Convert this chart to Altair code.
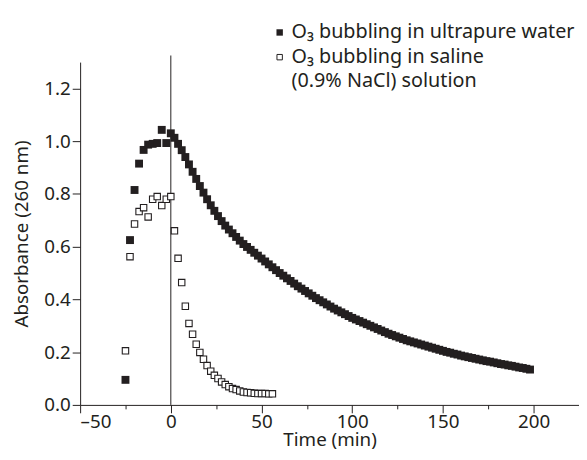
import altair as alt
import pandas as pd

INK = "#231f20"
FONT = "Noto Sans"

# ---- data ----
pre_times = [-25, -22.5, -20, -17.5, -15, -12.5, -10, -7.5, -5, -2.5]

water_pre = [0.095, 0.625, 0.815, 0.915, 0.967, 0.987, 0.990, 0.993, 1.043, 0.993]
water_post_times = list(range(0, 200, 2))
water_post = [
    1.030, 1.013, 0.990, 0.966, 0.940, 0.912, 0.884, 0.857, 0.830, 0.805,
    0.780, 0.757, 0.736, 0.716, 0.697, 0.680, 0.665, 0.651, 0.637, 0.623,
    0.610, 0.599, 0.588, 0.577, 0.566, 0.555, 0.544, 0.533, 0.522, 0.511,
    0.500, 0.490, 0.480, 0.470, 0.460, 0.450, 0.441, 0.432, 0.423, 0.414,
    0.405, 0.397, 0.389, 0.381, 0.373, 0.365, 0.358, 0.351, 0.344, 0.337,
    0.330, 0.324, 0.318, 0.312, 0.306, 0.300, 0.294, 0.288, 0.282, 0.276,
    0.270, 0.265, 0.260, 0.255, 0.250, 0.245, 0.241, 0.237, 0.233, 0.229,
    0.225, 0.221, 0.217, 0.213, 0.209, 0.205, 0.201, 0.198, 0.194, 0.191,
    0.187, 0.184, 0.181, 0.178, 0.175, 0.172, 0.169, 0.166, 0.164, 0.161,
    0.158, 0.155, 0.153, 0.150, 0.148, 0.145, 0.142, 0.140, 0.137, 0.134,
]

saline_pre = [0.205, 0.562, 0.686, 0.733, 0.748, 0.713, 0.780, 0.790, 0.756, 0.780]
saline_post_times = list(range(0, 58, 2))
saline_post = [
    0.790, 0.660, 0.556, 0.464, 0.374, 0.309, 0.268, 0.230, 0.199, 0.173,
    0.149, 0.128, 0.112, 0.100, 0.087, 0.077, 0.069, 0.062, 0.058, 0.053,
    0.049, 0.047, 0.046, 0.044, 0.043, 0.043, 0.043, 0.042, 0.042,
]

x_ticks = [-50, -25, 0, 25, 50, 75, 100, 125, 150, 175, 200, 225]
y_ticks = [0.0, 0.1, 0.2, 0.3, 0.4, 0.5, 0.6, 0.7, 0.8, 0.9, 1.0, 1.1, 1.2, 1.3]

legend_lines = ["O\u2083 bubbling in ultrapure water", "O\u2083 bubbling in saline", "(0.9% NaCl) solution"]

water = pd.DataFrame({"t": pre_times + water_post_times, "a": water_pre + water_post})
saline = pd.DataFrame({"t": pre_times + saline_post_times, "a": saline_pre + saline_post})
zero_line = pd.DataFrame({"t": [0], "a": [0.0], "a2": [1.325]})

x_axis = alt.Axis(
    values=x_ticks,
    labelExpr="datum.value % 50 == 0 ? replace(format(datum.value, 'd'), '\u2212', '\u2013') : ''",
    tickSize={"condition": {"test": "datum.value % 50 == 0", "value": 8}, "value": 4},
    title="Time (min)",
    labelPadding=0,
    titlePadding=-1,
)
y_axis = alt.Axis(
    values=y_ticks,
    labelExpr="round(datum.value*10) % 2 == 0 ? format(datum.value, '.1f') : ''",
    tickSize={"condition": {"test": "round(datum.value*10) % 2 == 0", "value": 8}, "value": 4},
    title="Absorbance (260 nm)",
    labelPadding=2,
    titlePadding=12,
)

X = alt.X("t:Q", scale=alt.Scale(domain=[-50, 225], nice=False, zero=False), axis=x_axis)
Y = alt.Y("a:Q", scale=alt.Scale(domain=[0, 1.3], nice=False, zero=False), axis=y_axis)

rule = alt.Chart(zero_line).mark_rule(color=INK, strokeWidth=1).encode(
    x="t:Q", y="a:Q", y2="a2:Q"
)
filled = alt.Chart(water).mark_square(size=64, color=INK, opacity=1).encode(x=X, y=Y)
opened = alt.Chart(saline).mark_square(
    size=42, filled=True, fill="white", stroke=INK, strokeWidth=1.1, opacity=1
).encode(x="t:Q", y="a:Q")

leg_df = pd.DataFrame({"k": [0]})
leg_sym1 = alt.Chart(leg_df).mark_square(size=42, color=INK, opacity=1).encode(
    x=alt.value(202), y=alt.value(-30)
)
leg_sym2 = alt.Chart(leg_df).mark_square(
    size=30, filled=True, fill="white", stroke=INK, strokeWidth=1, opacity=1
).encode(x=alt.value(202), y=alt.value(-5))
leg_texts = [
    alt.Chart(leg_df).mark_text(
        text=line, align="left", baseline="middle", font=FONT, fontSize=20, color=INK
    ).encode(x=alt.value(214), y=alt.value(yy))
    for line, yy in zip(legend_lines, [-30, -5, 19])
]

chart = alt.layer(rule, filled, opened, leg_sym1, leg_sym2, *leg_texts).properties(
    width=505,
    height=347,
    autosize=alt.AutoSizeParams(type="none"),
    padding={"left": 73, "top": 52, "right": 0, "bottom": 52},
).configure_view(stroke=None).configure_axis(
    grid=False,
    domainColor=INK,
    domainWidth=1,
    tickColor=INK,
    tickWidth=1,
    labelColor=INK,
    labelFont=FONT,
    labelFontSize=19,
    titleFont=FONT,
    titleFontSize=19,
    titleFontWeight="normal",
    titleColor=INK,
)

chart.save("out.html", embed_options={"renderer": "svg", "actions": False})
